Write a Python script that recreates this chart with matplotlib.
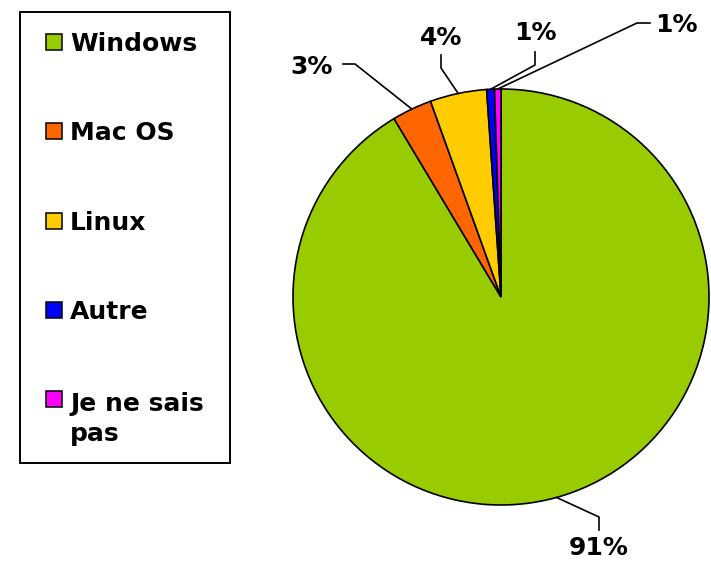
import numpy as np
import matplotlib
matplotlib.use("Agg")
import matplotlib.pyplot as plt
from matplotlib.patches import Rectangle

labels = ["Windows", "Mac OS", "Linux", "Autre", "Je ne sais\npas"]
values = [91.4, 3.1, 4.4, 0.6, 0.5]
pct_text = ["91%", "3%", "4%", "1%", "1%"]
colors = ["#99CC00", "#FF6600", "#FFCC00", "#0000FF", "#FF00FF"]

W, H = 711, 564
fig = plt.figure(figsize=(W / 100, H / 100), dpi=100)
ax = fig.add_axes([0, 0, 1, 1])

def Y(y):
    # image row (top down) -> axes y (bottom up)
    return H - y

cx, cy, R = 501, 297, 208
wedges, _ = ax.pie(values, colors=colors, startangle=90, counterclock=False,
                   center=(cx, Y(cy)), radius=R, frame=True,
                   wedgeprops=dict(edgecolor="black", linewidth=1.2))
ax.set_xlim(0, W)
ax.set_ylim(0, H)
ax.axis("off")

# label placement: text centre, elbow points of leader line (image coords)
lab_pos = [(599, 548), (312, 67), (441, 38), (535, 33), (676, 25)]
elbows = [[(599, 530), (599, 517)],
          [(343, 64), (355, 64)],
          [(441, 55), (441, 68)],
          [(535, 52), (535, 65)],
          [(650, 23), (637, 23)]]

for w, txt, pos, elb in zip(wedges, pct_text, lab_pos, elbows):
    mid = np.deg2rad((w.theta1 + w.theta2) / 2)
    px = cx + R * np.cos(mid)
    py = Y(cy) + R * np.sin(mid)
    xs = [e[0] for e in elb] + [px]
    ys = [Y(e[1]) for e in elb] + [py]
    ax.plot(xs, ys, color="black", linewidth=1.2)
    ax.text(pos[0], Y(pos[1]), txt, fontsize=18, fontweight="bold",
            ha="center", va="center")

# legend
ax.add_patch(Rectangle((20, Y(463)), 210, 451, fill=False,
                       edgecolor="black", linewidth=1.4))
baselines = [51, 140, 230, 319, 408]
for lab, col, b in zip(labels, colors, baselines):
    ax.add_patch(Rectangle((46, Y(b - 1)), 16, 16, facecolor=col,
                           edgecolor="black", linewidth=1.1))
    extra = lab.count("\n") * 33
    ax.text(70, Y(b + extra), lab, fontsize=18, fontweight="bold",
            ha="left", va="baseline", linespacing=1.3)

fig.savefig("out.png", dpi=100)
